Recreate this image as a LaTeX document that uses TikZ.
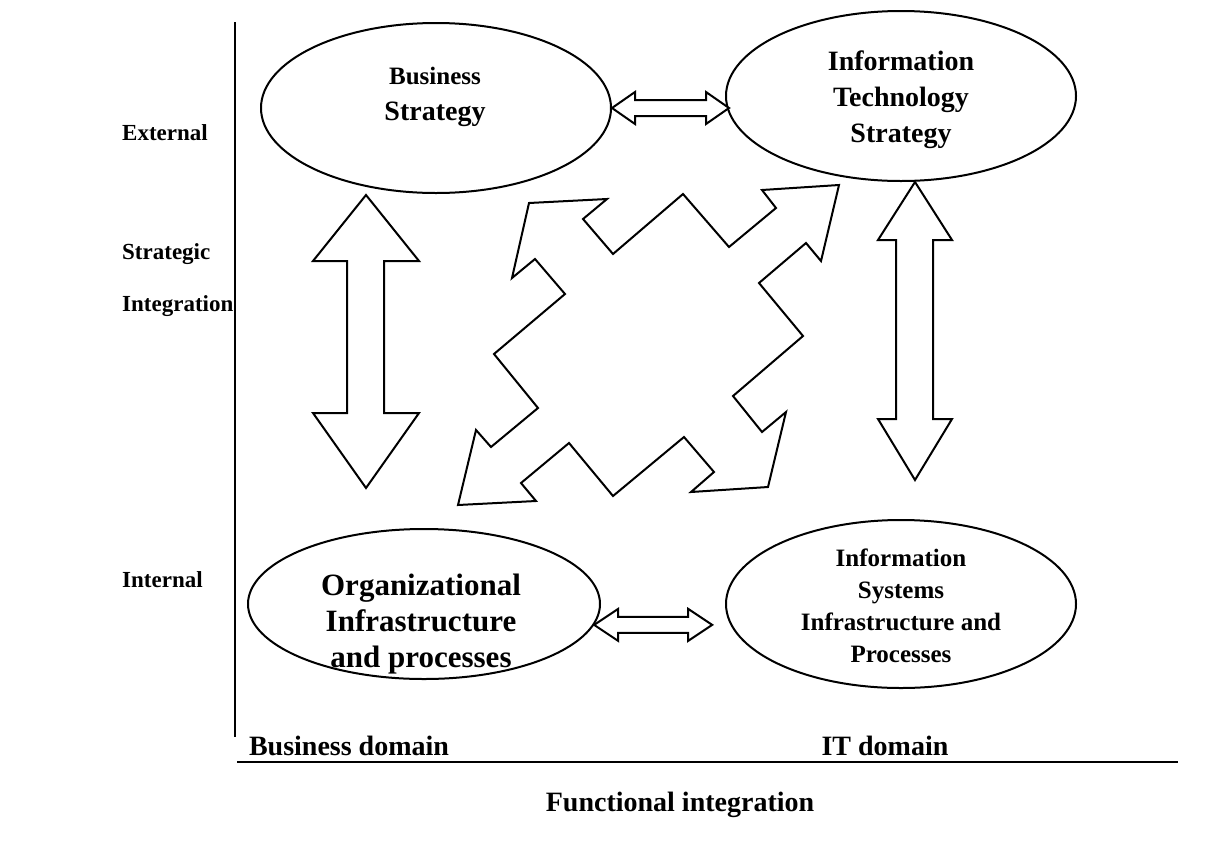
\documentclass[tikz,border=0pt]{standalone}
\usepackage{fontspec}
\setmainfont{Liberation Serif}
\usetikzlibrary{shapes.geometric}

\tikzset{
  goal/.style={draw, ellipse, line width=2pt, inner sep=0pt},
  goaltext/.style={align=center, inner sep=0pt, font=\bfseries},
  axislabel/.style={inner sep=0pt, font=\fontsize{23}{27}\selectfont\bfseries},
  domainlabel/.style={inner sep=0pt, font=\fontsize{28}{32}\selectfont\bfseries},
  blockarrow/.style={draw, line width=2pt, fill=white, line join=miter},
}

\begin{document}
\begin{tikzpicture}[x=1pt, y=-1pt]
  \useasboundingbox (0,0) rectangle (1206,841);

  % axes
  \draw[line width=2pt] (235,22) -- (235,737);
  \draw[line width=2pt] (237,762) -- (1178,762);

  % the four domains
  \node[goal, minimum width=350pt, minimum height=170pt] (bs) at (436,108) {};
  \node[goal, minimum width=350pt, minimum height=170pt] (its) at (901,96) {};
  \node[goal, minimum width=352pt, minimum height=150pt] (org) at (424,604) {};
  \node[goal, minimum width=350pt, minimum height=168pt] (iss) at (901,604) {};

  \node[goaltext, font=\fontsize{28}{36}\selectfont\bfseries] (bs text) at (435,97)
    {{\fontsize{25}{36}\selectfont Business}\\Strategy};
  \node[goaltext, font=\fontsize{28}{36}\selectfont\bfseries] (its text) at (901,100)
    {Information\\Technology\\Strategy};
  \node[goaltext, font=\fontsize{31}{36}\selectfont\bfseries] (org text) at (421,624)
    {Organizational\\Infrastructure\\and processes};
  \node[goaltext, font=\fontsize{25}{32}\selectfont\bfseries] (iss text) at (901,606)
    {Information\\Systems\\Infrastructure and\\Processes};

  % row and column labels
  \node[axislabel, anchor=west] (ext) at (122,133) {External};
  \node[axislabel, anchor=west] (strat) at (122,254) {Strategic};
  \node[axislabel, anchor=west] (integ) at (122,306) {Integration};
  \node[axislabel, anchor=west] (int) at (122,580) {Internal};
  \node[domainlabel] (busdom) at (349,746) {Business domain};
  \node[domainlabel] (itdom) at (885,746) {IT domain};
  \node[domainlabel] (funint) at (680,805) {Functional integration};

  % horizontal links
  \draw[blockarrow] (bs.east) -- ++(23,-16) -- ++(0,8) -- ++(71,0) -- ++(0,-8)
    -- ++(23,16) -- ++(-23,16) -- ++(0,-8) -- ++(-71,0) -- ++(0,8) -- cycle;
  \draw[blockarrow] (org.-7) -- ++(24,-16) -- ++(0,8) -- ++(70,0) -- ++(0,-8)
    -- ++(24,16) -- ++(-24,16) -- ++(0,-8) -- ++(-70,0) -- ++(0,8) -- cycle;

  % vertical links
  \draw[blockarrow] (366,195) -- (419,261) -- (384,261) -- (384,413) -- (419,413)
    -- (366,488) -- (313,413) -- (347,413) -- (347,261) -- (313,261) -- cycle;
  \draw[blockarrow] (915,182) -- (952,240) -- (933,240) -- (933,419) -- (952,419)
    -- (915,480) -- (878,419) -- (896,419) -- (896,240) -- (878,240) -- cycle;

  % cross links
  \draw[blockarrow] (529,203) -- (607,199) -- (583,219) -- (613,254) -- (683,194)
    -- (729,247) -- (776,208) -- (762,190) -- (839,185) -- (821,261) -- (806,243)
    -- (759,283) -- (803,336) -- (733,396) -- (762,432) -- (786,412) -- (768,487)
    -- (691,492) -- (714,472) -- (684,437) -- (613,496) -- (569,443) -- (521,483)
    -- (536,501) -- (458,505) -- (476,430) -- (491,447) -- (538,408) -- (494,354)
    -- (565,294) -- (535,259) -- (512,278) -- cycle;
\end{tikzpicture}
\end{document}
